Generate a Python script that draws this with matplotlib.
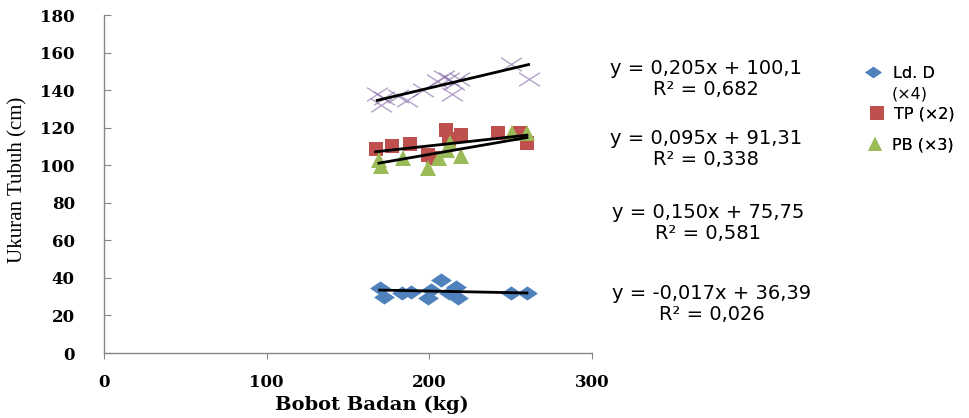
import matplotlib
matplotlib.use("Agg")
import matplotlib.pyplot as plt
from matplotlib.path import Path
from matplotlib.lines import Line2D
from matplotlib.font_manager import FontProperties
import numpy as np

# ---- data ----
ld_x = [169.5, 172, 183, 189, 199, 201, 207, 212, 216.5, 217.6, 250, 260]
ld_y = [34.6, 30, 32, 32.5, 29.4, 33.5, 38.9, 32, 35, 29.4, 32, 32]

tp_x = [167, 177, 188, 199, 202, 210, 212, 219.5, 242, 256, 260]
tp_y = [108.7, 110, 111.3, 105.5, 104, 119, 114, 116, 117, 117, 112]

pb_x = [169, 170, 184, 199, 206, 211, 213, 219.5, 251, 260]
pb_y = [103, 99.5, 104, 98.5, 104, 108, 112, 105, 117, 117]

xx_x = [168, 170, 172, 181, 186, 196, 205, 209, 212, 215, 218, 214, 250, 261]
xx_y = [138, 132, 136, 137, 135, 140, 145, 147, 146, 144, 146, 138, 154, 146]

# trendline coefficients (slope, intercept): ld, tp, pb, x-series
trend_slopes = [-0.017, 0.095, 0.150, 0.205]
trend_inters = [36.39, 91.31, 75.75, 100.1]
eq_texts = ["y = -0,017x + 36,39\nR² = 0,026",
            "y = 0,095x + 91,31\nR² = 0,338",
            "y = 0,150x + 75,75\nR² = 0,581",
            "y = 0,205x + 100,1\nR² = 0,682"]
legend_labels = ["Ld. D", "TP (×2)", "PB (×3)"]
legend_extra = "(×4)"
x_ticks = [0, 100, 200, 300]
y_ticks = list(range(0, 181, 20))

# ---- style ----
c_blue, c_red, c_green, c_purple = "#4F81BD", "#C0504D", "#9BBB59", "#8064A2"
grey = "#868686"

diamond = Path([(-1, 0), (0, 0.68), (1, 0), (0, -0.68), (-1, 0)],
               [Path.MOVETO, Path.LINETO, Path.LINETO, Path.LINETO, Path.CLOSEPOLY])
xmark = Path([(-1, -0.65), (1, 0.65), (-1, 0.65), (1, -0.65)],
             [Path.MOVETO, Path.LINETO, Path.MOVETO, Path.LINETO])

W, H = 970, 418
fig = plt.figure(figsize=(9.7, 4.18), dpi=100)
ax = fig.add_axes([104 / W, 1 - 353 / H, (592 - 104) / W, (353 - 15) / H])

ax.plot(ld_x, ld_y, linestyle="none", marker=diamond, markersize=15,
        color=c_blue, markeredgewidth=0, zorder=3)
ax.plot(tp_x, tp_y, linestyle="none", marker="s", markersize=10,
        color=c_red, markeredgewidth=0, zorder=3)
ax.plot(pb_x, pb_y, linestyle="none", marker="^", markersize=11,
        color=c_green, markeredgewidth=0, zorder=3)
ax.plot(xx_x, xx_y, linestyle="none", marker=xmark, markersize=15,
        markeredgecolor=c_purple, markerfacecolor="none", markeredgewidth=1.0,
        alpha=0.6, zorder=3)

series_x = [ld_x, tp_x, pb_x, xx_x]
for sx, m, b in zip(series_x, trend_slopes, trend_inters):
    xs = np.array([min(sx), max(sx)])
    ax.plot(xs, m * xs + b, color="black", linewidth=2, zorder=4)

ax.set_xlim(0, 300)
ax.set_ylim(0, 180)
ax.set_xticks(x_ticks)
ax.set_yticks(y_ticks)
for s in ["top", "right"]:
    ax.spines[s].set_visible(False)
for s in ["left", "bottom"]:
    ax.spines[s].set_color(grey)
    ax.spines[s].set_linewidth(1.0)

tick_fp = FontProperties(family="DejaVu Serif", weight="bold", size=12)
ax.tick_params(axis="y", direction="in", length=5, color=grey, pad=21)
ax.tick_params(axis="x", direction="out", length=4, color=grey, pad=11)
for lab in ax.get_yticklabels() + ax.get_xticklabels():
    lab.set_fontproperties(tick_fp)

fig.text(18 / W, 1 - 180 / H, "Ukuran Tubuh (cm)", rotation=90,
         ha="center", va="center", family="Liberation Serif", fontsize=15)
fig.text(372 / W, 1 - 405 / H, "Bobot Badan (kg)", ha="center", va="center",
         family="DejaVu Serif", weight="bold", fontsize=14)

# equations, order matches eq_texts: ld, tp, pb, x-series
eq_pos = [(712, 304), (706, 149), (708, 223), (706, 79)]
for txt, (px, py) in zip(eq_texts, eq_pos):
    fig.text(px / W, 1 - py / H, txt, ha="center", va="center",
             family="DejaVu Sans", fontsize=14, linespacing=1.1)

leg_fs = 11.5
leg_handles = [
    Line2D([], [], linestyle="none", marker=diamond, markersize=12, color=c_blue, markeredgewidth=0),
    Line2D([], [], linestyle="none", marker="s", markersize=10, color=c_red, markeredgewidth=0),
    Line2D([], [], linestyle="none", marker="^", markersize=10, color=c_green, markeredgewidth=0),
]
leg_pos = [(865, 73, 0.75), (869, 114, 0.57), (867, 145, 0.55)]
for h, lab, (lx, ly, tpad) in zip(leg_handles, legend_labels, leg_pos):
    lg = fig.legend([h], [lab], loc="center left", bbox_to_anchor=(lx / W, 1 - ly / H),
                    frameon=False, borderpad=0, borderaxespad=0, handlelength=1.0,
                    handletextpad=tpad, prop=dict(family="DejaVu Sans", size=leg_fs))
    fig.add_artist(lg)
fig.text(892 / W, 1 - 94 / H, legend_extra, ha="left", va="center",
         family="DejaVu Sans", fontsize=leg_fs)

fig.savefig("out.png", dpi=100)
